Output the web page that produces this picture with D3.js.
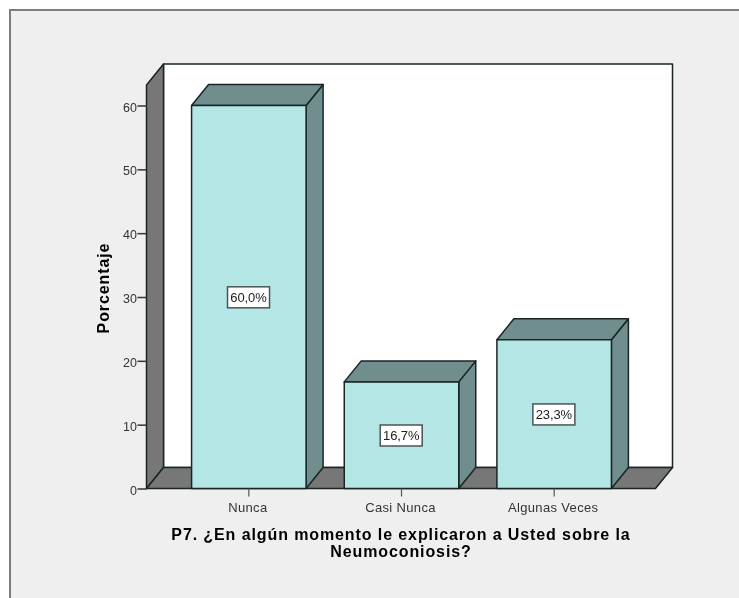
<!DOCTYPE html>
<html><head><meta charset="utf-8">
<script src="https://cdn.jsdelivr.net/npm/d3@7/dist/d3.min.js"></script>
<style>html,body{margin:0;padding:0;background:#fff}svg{display:block;filter:blur(0.35px)}text{font-family:"Liberation Sans",Arial,sans-serif}</style>
</head><body><svg id="c" width="739" height="598"></svg>
<script>
const categories = ["Nunca","Casi Nunca","Algunas Veces"];
const percentages = [60.0,16.7,23.3];
const valueLabels = ["60,0%","16,7%","23,3%"];
const yTicks = [0,10,20,30,40,50,60];
const yTitle = "Porcentaje";
const xTitleLines = ["P7. ¿En algún momento le explicaron a Usted sobre la","Neumoconiosis?"];

const svg = d3.select("#c");
const dx = 17, dy = -21;
const y = d3.scaleLinear().domain([0,60]).range([488.5,105.5]);
const x = d3.scaleBand().domain(categories).range([172.5,630.5]).paddingInner(0.25).paddingOuter(0.125);
const left = 146.5, right = 655.5, y0 = y(0), yTop = 85;
const line = "#1a2424", wallC = "#777777", sideC = "#708e8e", faceC = "#b5e6e6";

svg.append("rect").attr("x",10).attr("y",10).attr("width",760).attr("height",620)
  .attr("fill","#efefef").attr("stroke","#7d7d7d").attr("stroke-width",2);

const poly = (pts,fill) => svg.append("polygon").attr("points",pts.map(p=>p.join(",")).join(" "))
  .attr("fill",fill).attr("stroke",line).attr("stroke-width",1.5).attr("stroke-linejoin","round");

poly([[left+dx,yTop+dy],[right+dx,yTop+dy],[right+dx,y0+dy],[left+dx,y0+dy]],"#ffffff");
poly([[left,yTop],[left+dx,yTop+dy],[left+dx,y0+dy],[left,y0]],wallC);
poly([[left,y0],[left+dx,y0+dy],[right+dx,y0+dy],[right,y0]],wallC);

categories.forEach((c,i)=>{
  const v = percentages[i], bx = x(c), bw = x.bandwidth(), t = y(v);
  poly([[bx+bw,t],[bx+bw+dx,t+dy],[bx+bw+dx,y0+dy],[bx+bw,y0]],sideC);
  poly([[bx,t],[bx+dx,t+dy],[bx+bw+dx,t+dy],[bx+bw,t]],sideC);
  poly([[bx,t],[bx+bw,t],[bx+bw,y0],[bx,y0]],faceC);
  const cx = bx+bw/2-0.3, cy = (t+y0)/2+0.3;
  svg.append("rect").attr("x",cx-21).attr("y",cy-10.5).attr("width",42).attr("height",21)
    .attr("fill","#fff").attr("stroke","#4a5555").attr("stroke-width",1.5);
  svg.append("text").attr("x",cx).attr("y",cy+4.5).attr("text-anchor","middle")
    .attr("font-size",13).attr("letter-spacing",-0.1).attr("fill","#222").text(valueLabels[i]);
});

const ya = svg.append("g").attr("transform",`translate(${left},0)`)
  .call(d3.axisLeft(y).tickValues(yTicks).tickSize(9).tickPadding(0.5).tickFormat(d3.format("d")));
ya.select(".domain").remove();
ya.selectAll("line").attr("stroke","#333").attr("stroke-width",1.5);
ya.selectAll("text").attr("font-size",12.5).attr("fill","#333").attr("font-family",'"Liberation Sans"').attr("dy","0.45em");

const xa = svg.append("g").attr("transform",`translate(-1,${y0})`)
  .call(d3.axisBottom(x).tickSize(8).tickPadding(6));
xa.select(".domain").remove();
xa.selectAll("line").attr("stroke","#555").attr("stroke-width",1.2).attr("transform","translate(1,0)");
xa.selectAll("text").attr("font-size",13).attr("letter-spacing",0.35).attr("fill","#333").attr("font-family",'"Liberation Sans"');

svg.append("text").attr("transform","translate(109,288) rotate(-90)").attr("text-anchor","middle")
  .attr("font-size",16).attr("letter-spacing",0.9).attr("font-weight","bold").attr("fill","#000").text(yTitle);
xTitleLines.forEach((s,i)=>svg.append("text").attr("x",401).attr("y",539.5+i*17).attr("text-anchor","middle")
  .attr("font-size",16).attr("letter-spacing",0.9).attr("font-weight","bold").attr("fill","#000").text(s));
</script></body></html>
